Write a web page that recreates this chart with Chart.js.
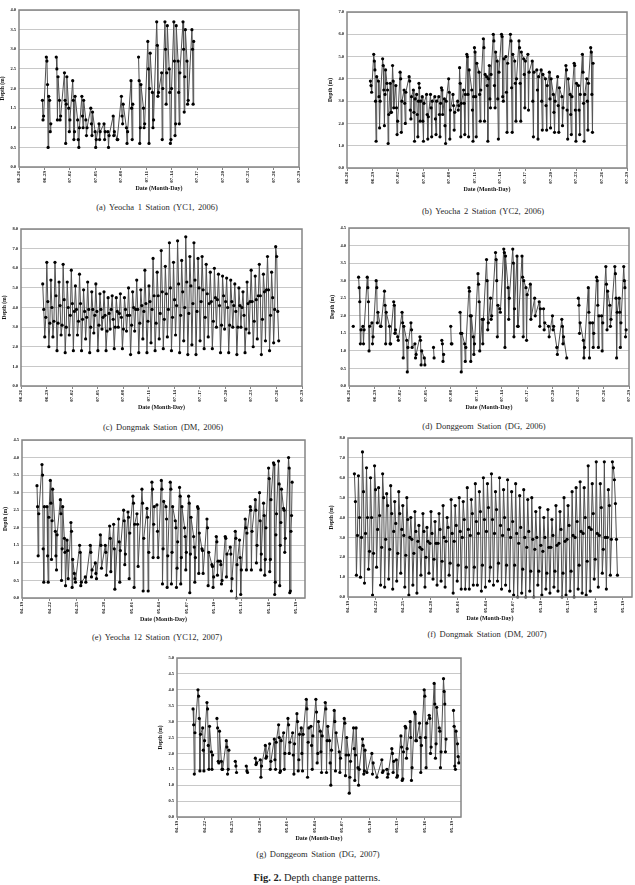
<!DOCTYPE html>
<html><head><meta charset="utf-8">
<script src="https://cdn.jsdelivr.net/npm/chart.js@4.4.1/dist/chart.umd.min.js"></script>
<style>
html,body{margin:0;padding:0;background:#fff;}
body{width:635px;height:885px;position:relative;overflow:hidden;font-family:"Liberation Serif","DejaVu Serif",serif;}
canvas{position:absolute;}
.cap{position:absolute;font-size:8.5px;line-height:10px;color:#2a2a2a;white-space:nowrap;transform:translateX(-50%);word-spacing:1.5px;}
.fig{position:absolute;font-size:10.5px;line-height:12px;color:#222;white-space:nowrap;transform:translateX(-50%);}
</style></head><body>
<script>
// ---------- tick labels ----------
const tickLabels2006 = ['06-26','06-29','07-02','07-05','07-08','07-11','07-14','07-17','07-20','07-23','07-26','07-29'];
const tickLabels2007 = ['04-19','04-22','04-25','04-28','05-01','05-04','05-07','05-10','05-13','05-16','05-19'];

// ---------- (a) Yeocha 1 (YC1, 2006): group start day (days after 06-26) and depths (m) ----------
const yc1Day = [2.76,3.22,3.61,4.39,4.77,5.36,5.86,6.33,6.91,7.41,7.88,8.46,8.97,9.43,10.02,10.48,11.10,11.57,12.07,12.66,13.20,14.09,14.67,15.18,15.72,16.23,16.81,17.20,17.70,18.25,18.75,19.33,19.80,20.38];
const yc1Depth = [
[1.7,1.2,1.3],[2.8,2.7,2.1,0.5,1.8],[1.7,0.9,1.1],[2.8,2.5,1.2,2.3],[1.7,1.2,1.3],
[2.4,1.7,0.6,1.6,2.3],[1.5,0.9,1.2],[2.2,1.7,0.7,0.9,1.8],[1.2,0.7,0.5,1.0],[1.8,1.3,1.0,1.7],
[1.2,0.8,1.0],[1.5,1.1,0.8,1.4],[0.9,0.5,0.7],[1.1,0.7,0.9],[1.1,0.7,0.9],
[0.9,0.5,0.8],[1.3,0.8,0.9],[0.7,0.7],[1.8,1.3,1.1,1.6],[1.0,0.6,0.9],
[2.2,1.5,0.7,1.6],[2.8,2.2,0.6,1.0,2.1],[1.5,1.0,1.1],[3.2,2.5,0.6,2.0,2.9],[1.9,1.0,1.2],
[3.7,3.1,1.8,1.9],[2.4,0.7,2.0],[3.7,3.0,1.6,2.4,3.6],[2.5,1.9,0.6,0.7,2.0],[3.7,2.7,0.8,1.1,3.6],
[2.7,1.9,1.1,2.4],[3.7,3.0,1.4,2.3,3.5],[2.7,1.6,1.7],[3.5,3.0,1.6,3.2]];

// ---------- (b) Yeocha 2 (YC2, 2006) ----------
const yc2Day = [2.76,3.15,3.70,4.20,4.71,5.10,5.37,5.76,6.26,6.73,7.32,7.82,8.21,8.48,8.87,9.38,9.84,10.35,10.82,11.13,11.48,11.98,12.49,13.04,13.27,13.74,14.12,14.71,15.02,15.56,16.07,16.46,16.77,17.24,17.70,18.21,18.72,19.26,19.77,20.27,20.82,21.32,21.83,22.37,22.88,23.39,23.85,24.32,24.82,25.33,25.80,26.30,26.77,27.28,27.74,28.25,28.72];
const yc2Depth = [
[3.9,3.7,3.4],[5.1,4.8,4.4,3.0,1.2,4.1],[3.9,3.2,1.8,3.0],[4.9,4.6,3.5,1.9,3.3,4.4],[3.8,3.5,1.1,2.4],
[3.8,2.5,2.5],[4.6,3.9,2.7],[3.7,2.7,1.5,2.1],[4.3,4.0,1.6,3.0],[3.5,2.9,2.0,3.4],
[4.1,3.9,2.6,2.2,3.2],[3.5,2.5,1.2,3.1],[3.3,2.4,1.4,3.0],[3.8,3.6,2.1,3.0],[3.2,2.1,1.2,2.9],
[3.3,2.4,1.3,2.3],[3.3,2.7,1.4,3.0],[3.2,2.2,1.5,3.0],[3.2,2.4,1.4,2.9],[3.6,3.5,2.4],
[3.1,1.9,1.1,3.0],[4.0,3.4,1.3,2.6],[3.3,2.8,1.7,2.5],[3.0,2.6,2.8],[4.5,3.8,1.4,2.9],
[3.5,2.9,1.5,3.3],[5.1,5.0,3.3,1.4,4.4],[3.5,2.6,1.2,3.2],[5.4,5.2,3.2,1.4,4.7],[4.3,3.3,2.1,3.5],
[5.8,5.4,2.1,4.2],[4.1,3.7,1.2,4.0],[4.6,3.1,2.7,4.2],[6.0,5.7,3.7,2.7,5.2],[4.8,3.1,1.3,4.3],
[6.0,5.9,3.2,3.0,4.9],[5.0,3.4,1.6,4.7],[6.0,5.7,3.6,1.6,5.1],[4.8,3.8,2.1,4.0],[5.7,5.4,3.8,2.1,5.2],
[4.9,4.2,2.7,4.8],[5.1,2.6,4.3],[4.8,3.0,1.4,4.3],[4.4,3.5,1.3,4.1],[4.4,3.0,1.7,4.2],
[4.0,2.8,1.7,3.7],[4.3,3.1,1.8,4.0],[3.3,2.5,1.6,3.0],[4.1,2.8,1.6,3.6],[3.2,1.9,2.7],
[4.6,4.4,2.6,1.3,4.0],[3.3,2.4,1.5,3.2],[4.7,4.6,2.6,1.2,3.8],[3.7,2.6,1.5,3.3],[5.1,4.3,2.9,1.2,3.3],
[4.0,3.0,1.7,3.8],[5.4,5.2,3.3,1.6,4.7]];

// ---------- (c) Dongmak (DM, 2006): regular series ----------
const dm06Start = 2.55, dm06Step = 0.12;
const dm06Depth = [
5.2,3.9,2.5,3.5, 6.3,4.3,2.0,3.2,  5.4,4.0,2.5,3.3, 6.3,4.6,1.8,3.2,
5.3,4.1,2.6,3.1, 6.2,4.4,1.7,3.0,  5.3,4.0,2.6,3.6, 5.9,4.2,1.8,3.8,
5.1,3.9,2.6,3.3, 5.7,4.2,1.8,3.4,  4.9,3.8,2.4,3.5, 5.3,3.9,1.7,3.0,
4.8,3.9,2.7,3.6, 5.2,3.8,1.8,3.1,  4.7,3.9,2.9,3.5, 4.8,3.6,1.8,2.8,
4.5,3.7,2.9,3.9, 4.6,3.4,1.9,3.0,  4.5,3.8,3.0,3.7, 4.7,3.5,1.9,2.9,
4.5,3.9,2.8,3.6, 5.0,3.6,1.6,3.1,  4.8,4.0,2.8,3.9, 5.4,3.9,1.7,3.2,
4.9,4.1,2.4,3.8, 5.9,4.2,1.7,3.3,  5.1,4.3,2.2,3.9, 6.5,4.6,1.8,3.2,
5.8,4.6,2.4,3.7, 6.9,4.8,1.9,3.4,  6.1,4.7,2.5,3.9, 7.3,5.0,1.8,3.5,
6.3,4.4,2.6,4.1, 7.4,5.2,1.7,3.6,  6.4,4.8,2.3,4.0, 7.6,5.3,1.6,3.7,
6.6,5.1,2.1,4.2, 7.3,5.4,1.6,3.8,  6.5,5.0,2.3,4.3, 6.6,4.9,1.9,3.5,
6.2,4.7,2.5,4.2, 5.8,4.3,1.9,3.3,  6.0,4.5,3.0,4.4, 5.7,4.1,1.7,3.1,
5.6,4.6,2.9,4.3, 5.5,4.0,1.7,3.1,  5.4,4.3,3.0,4.1, 5.2,3.8,1.6,3.0,
5.0,4.1,3.0,4.0, 4.8,3.6,1.7,2.9,  5.3,4.2,2.7,4.3, 5.9,4.3,2.0,3.3,
5.6,4.4,2.4,4.6, 6.2,4.6,1.6,3.4,  5.7,4.8,2.3,4.9, 6.6,4.9,1.8,3.6,
5.8,4.5,2.2,3.9, 7.1,6.6,3.8,2.3];

// ---------- (d) Donggeom (DG, 2006) ----------
const dg06Day = [0.50,1.13,1.64,2.15,2.70,3.20,3.71,4.18,4.77,5.27,5.74,6.25,6.80,7.30,7.77,8.36,8.87,9.96,10.94,11.99,13.09,13.63,14.14,14.65,15.20,15.70,16.21,16.68,17.27,17.77,18.24,18.75,19.30,19.80,20.39,20.86,21.37,21.88,22.42,22.93,23.52,23.98,24.49,25.08,25.66,27.03,27.62,28.20,28.71,29.18,29.77,30.27,30.74,31.33,31.84,32.38];
const dg06Depth = [
[1.7],[3.1,2.8,2.4,1.2,1.6],[1.7,1.2,1.6],[3.1,2.8,2.4,1.0,1.7],[1.8,1.2,1.4],
[3.0,2.8,1.8,2.1],[1.7,1.7],[2.7,2.3,1.2,2.1],[1.7,1.2,1.2],[2.4,2.3,1.5,1.6],
[1.4,1.3],[2.1,1.8,0.8,1.7],[1.3,0.4,1.1],[1.8,1.6,1.1],[1.2,0.8,0.9],
[1.4,1.3,0.6,1.0],[0.8,0.6],[1.1,0.8],[1.3,1.2,0.7,0.9],[1.7,1.2,1.2],
[2.1,1.5,0.4,1.5],[1.2,0.7,1.1],[2.8,2.7,2.0,0.7,2.0],[1.4,0.9,1.2],[3.2,2.9,2.4,1.0],
[1.9,1.2,1.9],[3.6,3.0,1.6,1.8],[2.5,1.9,2.0],[3.8,3.6,3.0,1.4,2.3],[2.2,2.1],
[3.9,3.8,1.1,3.7],[2.8,1.9,2.5],[3.9,3.5,1.4,2.2],[3.7,1.7,1.7],[3.7,3.1,1.4,3.0],
[2.8,1.3,2.6],[2.9,1.9],[2.5,2.0],[2.4,1.7,2.2],[2.2,1.6,1.8],
[1.7,1.4],[2.0,1.6,1.7],[1.1,0.9],[1.9,1.7,1.2,1.4],[0.8],
[2.5,2.3,1.5,1.8],[1.3,0.8,1.1],[2.8,2.1,0.8,1.8],[1.8,1.1,1.5],[3.1,3.0,2.3,1.1,2.0],
[2.0,1.0,1.8],[3.4,2.9,1.6,2.7],[2.3,1.7,1.9],[3.4,3.2,2.5,0.8,2.1],[2.5,2.1,1.1,1.8],
[3.4,3.0,2.8,1.4,1.6]];

// ---------- (e) Yeocha 12 (YC12, 2007): days after 04-19 ----------
const yc12Day = [1.64,2.19,2.74,3.10,3.65,4.20,4.64,4.93,5.36,5.73,6.31,6.93,7.48,8.03,8.58,9.12,9.60,10.04,10.58,11.13,11.61,12.15,12.59,13.14,13.69,14.23,14.78,15.26,15.77,16.24,16.79,17.26,17.81,18.25,18.80,19.23,19.71,20.26,20.80,21.28,21.72,22.26,22.81,23.36,23.83,24.45,25.00,25.55,26.02,26.46,27.01,27.55,28.10,28.65,29.20];
const yc12Depth = [
[3.2,2.6,1.2,2.4],[3.8,3.5,1.4,0.45,2.6],[2.6,1.2,0.45,2.3],[3.35,2.7,1.1,2.2,3.1],[1.9,1.2,0.8,1.8],
[2.8,2.4,0.5,1.4,2.6],[1.7,1.3,0.35],[1.65,1.35,0.55],[2.15,1.9,0.3,1.1],[0.7,0.55,0.45],
[1.5,1.3,0.35,0.45],[0.6,0.45],[1.5,1.3,0.6,0.8],[1.0,0.7,0.55],[1.8,1.5,0.85],
[1.5,1.3,0.65],[2.05,1.7,0.75],[2.1,1.4,0.25],[2.25,1.6,0.45,1.35],[2.5,2.2,0.95,1.25],
[2.45,2.3,0.55,1.85],[2.9,2.7,0.3,2.1],[2.4,2.1,0.9],[3.1,2.7,0.2,1.7],[2.55,2.3,0.2,1.3],
[3.3,3.1,1.15,2.1,2.6],[2.65,1.9,1.15],[3.35,3.1,0.4,1.4,2.75],[2.6,2.25,0.3,1.2],[3.3,3.1,0.4,1.3,2.6],
[2.2,2.0,0.3,0.85,1.6],[3.15,2.9,0.4,1.15,2.6],[2.0,1.75,0.8,1.3],[2.9,2.7,0.15,1.25,2.3],[1.75,1.45,0.45,1.15],
[2.6,2.55,0.7,1.85],[1.4,1.35,0.7],[2.25,2.0,0.35,1.3],[0.95,0.9,0.3,0.6],[1.75,1.6,0.65,1.05],
[1.05,0.95,0.4,0.5],[1.75,1.7,0.6,1.25],[1.45,1.25,0.2,0.55],[1.9,1.7,0.0,0.95],[1.65,1.15,0.1,0.8],
[2.25,2.0,0.8,1.85],[2.6,2.5,0.8,1.9],[2.8,2.5,1.0,1.5],[3.0,2.2,0.8,1.25],[2.7,2.35,0.65,1.1,2.0],
[3.7,3.4,0.75,1.1,2.8],[3.85,3.8,0.1,0.45,1.8,2.4],[3.9,3.25,0.35,1.5,2.15,3.1],[2.55,2.5,1.3,1.7],[4.0,3.7,0.15,0.2,1.9,2.35,3.3]];

// ---------- (f) Dongmak (DM, 2007): regular series ----------
const dm07Start = 0.7, dm07Step = 0.11;
const dm07Depth = [
6.2,4.8,1.1,3.1, 6.1,4.0,1.0,3.0,  7.3,5.3,0.7,3.2, 6.5,4.0,1.4,2.3,
6.0,4.0,0.1,2.2, 6.6,5.4,1.5,3.4,  5.5,4.1,0.6,2.5, 6.2,5.0,0.5,2.9,
5.2,4.6,0.9,2.4, 5.6,4.2,0.4,3.3,  4.8,3.7,0.8,2.2, 5.3,4.2,1.2,3.4,
4.6,3.1,0.5,2.1, 5.0,3.9,0.1,3.0,  4.0,2.9,0.6,2.2, 4.3,3.3,0.2,2.8,
3.6,2.5,1.1,2.4, 4.2,3.3,0.5,2.0,  3.5,2.8,1.2,2.7, 4.3,3.2,0.9,1.9,
3.8,2.7,0.6,2.7, 4.2,3.4,0.8,1.8,  4.6,3.0,0.5,2.8, 4.0,3.5,1.1,1.7,
4.9,3.2,0.2,2.8, 4.6,3.6,0.8,1.6,  5.0,3.3,0.4,3.0, 4.8,3.9,0.4,1.5,
5.5,3.4,0.4,3.1, 4.9,4.2,0.6,1.5,  5.7,3.8,0.6,3.2, 5.3,4.3,0.3,1.6,
6.0,3.9,0.5,3.3, 5.7,4.5,0.8,1.5,  6.2,3.9,0.6,3.2, 5.3,4.4,0.8,1.7,
6.0,3.6,0.4,3.1, 5.4,4.0,0.6,1.6,  5.9,3.4,0.3,3.0, 5.3,3.8,0.1,1.6,
5.7,3.2,0.0,2.7, 5.1,3.5,0.2,1.4,  5.4,3.0,0.0,2.5, 4.9,3.3,0.3,1.3,
5.0,2.9,0.0,2.4, 4.3,3.0,0.6,1.3,  4.5,2.6,0.1,2.3, 4.0,3.0,0.4,1.2,
4.4,2.5,0.2,2.5, 3.9,3.1,0.5,1.3,  4.6,2.6,0.3,2.7, 4.3,3.4,0.0,1.2,
5.0,2.8,0.1,2.9, 4.6,3.6,0.3,1.3,  5.3,3.1,0.0,3.0, 5.5,3.8,0.4,1.6,
5.8,3.3,0.2,3.2, 5.5,4.0,0.1,1.8,  6.6,3.5,0.3,3.4, 5.7,4.2,0.9,1.9,
6.8,3.2,0.5,3.1, 5.7,4.5,1.2,2.4,  6.8,3.0,0.4,3.0, 5.4,4.6,1.1,2.9,
6.8,6.5,5.9,4.7,2.9,1.1];

// ---------- (g) Donggeom (DG, 2007) ----------
const dg07Day = [1.75,2.29,2.80,3.27,3.75,4.36,4.84,5.38,6.36,7.56,8.55,9.09,9.64,10.11,10.62,11.09,11.64,12.11,12.62,13.09,13.56,14.11,14.62,15.16,15.64,16.18,16.65,17.16,17.71,18.25,18.73,19.27,19.75,20.25,20.73,21.27,21.82,22.36,22.91,23.45,23.93,24.44,24.91,25.45,25.93,26.47,26.98,27.53,28.07,28.62,29.09,30.18,30.62];
const dg07Depth = [
[3.4,2.9,1.35,2.65],[4.0,3.8,3.1,1.45,2.6],[2.8,2.1,1.45,2.4],[3.6,3.4,2.25,1.5,2.85],[2.05,1.5,1.95],
[3.1,2.8,1.75,1.7,2.7],[1.75,1.5,1.5],[2.4,2.2,1.35,1.5,2.1],[1.75,1.6,1.4],[1.6,1.45,1.4],
[1.85,1.65,1.7],[1.8,1.25,1.6],[2.25,1.85,1.9],[2.3,1.5,1.75],[2.45,1.8,1.5,2.35],
[2.9,2.5,1.4,1.45,2.4],[2.65,1.5,2.0],[3.1,2.9,2.0,2.35],[2.65,1.95,1.35,2.3],[3.25,3.0,1.45,1.8,2.6],
[2.8,2.0,1.45,2.6],[3.7,3.4,1.25,2.35,2.8],[2.85,2.25,1.5,2.55],[3.7,3.3,1.7,2.0,3.0],[2.7,2.05,1.4,2.55],
[3.6,3.4,1.4,2.4,2.85],[2.4,1.7,1.0,2.1],[3.35,3.0,1.45,2.65],[2.05,1.4,1.85],[3.1,2.95,1.3,1.95,2.5],
[1.95,0.75,1.25,1.75],[2.8,2.15,1.15,1.95,2.8],[1.55,1.0,1.5],[2.45,2.25,1.35,1.45,2.1],[1.4],
[2.0,1.35,1.7],[1.25],[1.8,1.4,1.45],[1.5,1.25,1.35],[2.15,2.0,1.4,1.75],
[1.8,1.25,1.3],[2.55,2.2,1.15,1.2,2.05],[2.85,2.8,1.85,2.15],[3.0,2.5,1.15,1.55],[3.3,3.25,2.4,2.4],
[2.95,2.5,1.4,2.25],[4.0,3.8,2.5,1.55,2.95],[3.2,3.1,2.0,2.2],[4.2,3.55,1.85,2.3,3.45],[2.8,2.7,1.55,2.05],
[4.35,3.95,3.55,2.05,2.45],[3.35,2.85,1.6,1.5,2.7],[2.3,1.9,1.7]];

// ---------- builders ----------
function stepPoints(start, step, depths){
  return depths.map((d,i)=>({x:start+i*step, y:d}));
}
function groupPoints(days, groups, spacing, gap){
  const pts=[];
  groups.forEach((g,k)=>{
    if(k>0 && days[k]-days[k-1] > gap) pts.push({x:(days[k]+days[k-1])/2, y:null});
    g.forEach((d,j)=>pts.push({x:days[k]+j*spacing, y:d}));
  });
  return pts;
}

const framePlugin = {
  id:'frame',
  afterDraw(chart){
    const {ctx, chartArea:a} = chart;
    ctx.save();
    ctx.strokeStyle = '#858585';
    ctx.lineWidth = 1.5;
    ctx.strokeRect(a.left, a.top, a.right-a.left, a.bottom-a.top);
    ctx.restore();
  }
};

const SERIF = "'Liberation Serif', 'DejaVu Serif', serif";

const panels = [
  {plot:[19,10,302,167], labels:tickLabels2006, xmax:33, ymax:4.0, ystep:0.5,
   points:groupPoints(yc1Day, yc1Depth, 0.07, 0.75),
   cap:'(a)  Yeocha  1  Station  (YC1,  2006)', cx:157, cy:207},
  {plot:[347,12,630,168], labels:tickLabels2006, xmax:33, ymax:7.0, ystep:1.0,
   points:groupPoints(yc2Day, yc2Depth, 0.07, 0.75),
   cap:'(b)  Yeocha  2  Station  (YC2,  2006)', cx:483, cy:211},
  {plot:[21,229,305,386], labels:tickLabels2006, xmax:33, ymax:8.0, ystep:1.0,
   points:stepPoints(dm06Start, dm06Step, dm06Depth),
   cap:'(c)  Dongmak  Station  (DM,  2006)', cx:163, cy:427},
  {plot:[349,228,632,386], labels:tickLabels2006, xmax:33, ymax:4.5, ystep:0.5,
   points:groupPoints(dg06Day, dg06Depth, 0.07, 0.6),
   cap:'(d)  Donggeom  Station  (DG,  2006)', cx:484, cy:426},
  {plot:[22,440,305,598], labels:tickLabels2007, xmax:31, ymax:4.5, ystep:0.5,
   points:groupPoints(yc12Day, yc12Depth, 0.065, 0.75),
   cap:'(e)  Yeocha  12  Station  (YC12,  2007)', cx:157, cy:637},
  {plot:[348,438,632,597], labels:tickLabels2007, xmax:31, ymax:8.0, ystep:1.0,
   points:stepPoints(dm07Start, dm07Step, dm07Depth),
   cap:'(f)  Dongmak  Station  (DM,  2007)', cx:487, cy:634},
  {plot:[177,658,461,817], labels:tickLabels2007, xmax:31, ymax:5.0, ystep:0.5,
   points:groupPoints(dg07Day, dg07Depth, 0.07, 0.6),
   cap:'(g)  Donggeom  Station  (DG,  2007)', cx:318, cy:854}
];

function makePanel(p){
  const [l,t,r,b] = p.plot;
  const W = r-l+26, H = b-t+38;
  const c = document.createElement('canvas');
  c.width = W; c.height = H;
  c.style.left = (l-22)+'px'; c.style.top = (t-8)+'px';
  c.style.width = W+'px'; c.style.height = H+'px';
  document.body.appendChild(c);

  const cap = document.createElement('div');
  cap.className = 'cap';
  cap.textContent = p.cap;
  cap.style.left = p.cx+'px';
  cap.style.top = (p.cy-5)+'px';
  document.body.appendChild(cap);

  new Chart(c, {
    type:'line',
    data:{datasets:[{
      data:p.points,
      borderColor:'#505050', borderWidth:1,
      pointRadius:1.6, pointBackgroundColor:'#000', pointBorderWidth:0, pointHoverRadius:0,
      tension:0, spanGaps:false, clip:4
    }]},
    options:{
      responsive:false, animation:false, devicePixelRatio:1, events:[],
      layout:{padding:{left:0, top:8, right:4, bottom:0}},
      plugins:{legend:{display:false}, tooltip:{enabled:false}},
      scales:{
        x:{
          type:'linear', min:0, max:p.xmax,
          afterFit:s=>{ s.height = 30; },
          afterBuildTicks:s=>{ s.ticks = p.labels.map((_,i)=>({value:i*3})); },
          grid:{drawOnChartArea:false, drawTicks:true, tickLength:3, color:'#858585', lineWidth:1},
          border:{display:false},
          ticks:{autoSkip:false, minRotation:90, maxRotation:90, padding:1, color:'#111',
                 font:{family:SERIF, size:5, weight:'bold'},
                 callback:v=>p.labels[Math.round(v/3)]},
          title:{display:true, text:'Date (Month-Day)', color:'#111',
                 font:{family:SERIF, size:6, weight:'bold'}, padding:{top:0, bottom:4.5}}
        },
        y:{
          min:0, max:p.ymax,
          afterFit:s=>{ s.width = 22; },
          grid:{color:'#c8c8c8', lineWidth:1, drawTicks:false},
          border:{display:false},
          ticks:{stepSize:p.ystep, padding:3, color:'#111',
                 font:{family:SERIF, size:4.5, weight:'bold'},
                 callback:v=>Number(v).toFixed(1)},
          title:{display:true, text:'Depth (m)', color:'#111',
                 font:{family:SERIF, size:5.5, weight:'bold'}, padding:{top:2, bottom:0}}
        }
      }
    },
    plugins:[framePlugin]
  });
}

panels.forEach(makePanel);

const fig = document.createElement('div');
fig.className = 'fig';
fig.innerHTML = '<b>Fig. 2.</b> Depth change patterns.';
fig.style.left = '317px';
fig.style.top = '872px';
document.body.appendChild(fig);
</script>
</body></html>
